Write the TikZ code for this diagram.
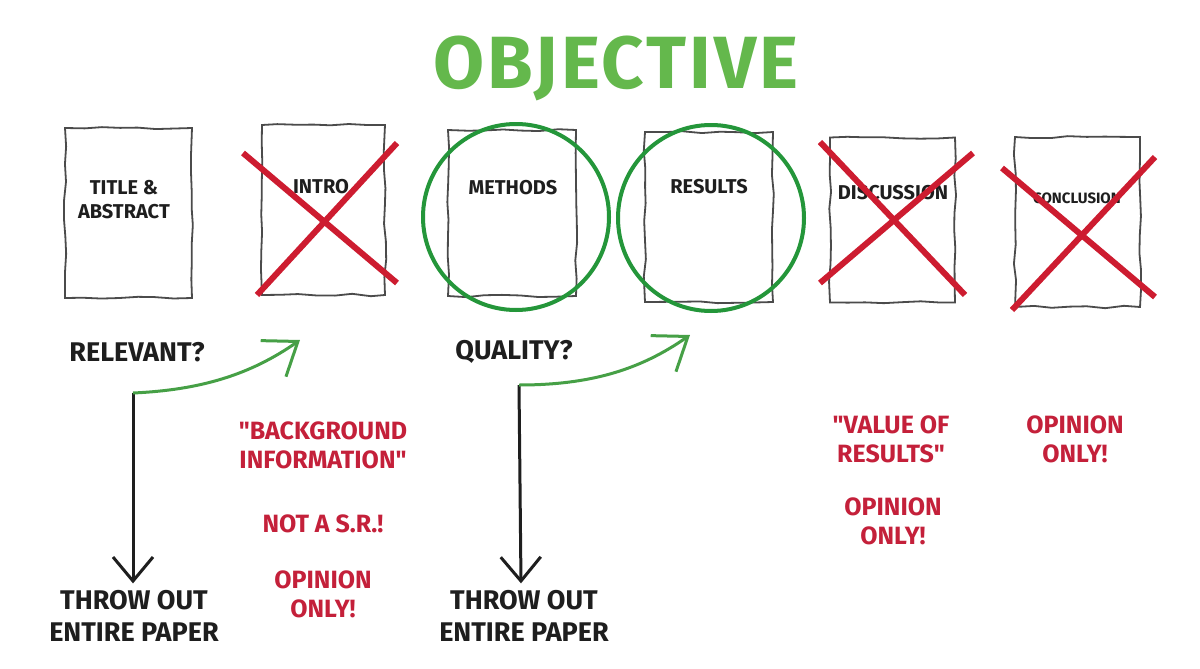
\documentclass[tikz,border=0pt]{standalone}
\usepackage{fontspec}
\setmainfont{Fira Sans}
\usetikzlibrary{arrows.meta,decorations.pathmorphing}
\definecolor{objgreen}{RGB}{100,184,76}
\definecolor{circgreen}{RGB}{36,150,58}
\definecolor{arrgreen}{RGB}{70,160,70}
\definecolor{xred}{RGB}{205,28,48}
\definecolor{tred}{RGB}{196,32,58}
\definecolor{ink}{RGB}{30,30,30}
\begin{document}
\pgfmathsetseed{7}
\begin{tikzpicture}[x=0.5pt,y=-0.5pt,
  paper/.style={draw=ink!80, line width=0.9pt, inner sep=0pt, outer sep=0pt,
    decorate, decoration={random steps, segment length=9pt, amplitude=0.6pt}},
  pagelabel/.style={font=\bfseries\fontsize{10}{12}\selectfont, text=ink, align=center},
  cross/.style={draw=xred, line width=3pt},
  ring/.style={draw=circgreen, line width=2pt},
  question/.style={font=\bfseries\fontsize{13.5}{16}\selectfont, text=ink},
  throwout/.style={font=\bfseries\fontsize{13.5}{16}\selectfont, text=ink, align=center},
  redtext/.style={font=\bfseries\fontsize{12.5}{14.5}\selectfont, text=tred, align=center},
  downarrow/.style={draw=ink, line width=1.5pt, -{Straight Barb[length=12pt,width=20pt,line width=1.5pt]}},
  greenarrow/.style={draw=arrgreen, line width=1.5pt, -{Straight Barb[length=15pt,width=22pt,line width=1.5pt]}}
]
\useasboundingbox[fill=white] (0,0) rectangle (1200,669);

% title
\node[font=\bfseries\fontsize{37}{40}\selectfont\addfontfeatures{LetterSpace=4}, text=objgreen] (title) at (616,68) {OBJECTIVE};

% pages
\node[paper, minimum width=63.5pt, minimum height=85pt] (p1) at (128.5,213) {};
\node[paper, minimum width=61.5pt, minimum height=85pt] (p2) at (323.5,210) {};
\node[paper, minimum width=64pt, minimum height=83pt] (p3) at (512,213) {};
\node[paper, minimum width=64pt, minimum height=85pt] (p4) at (709,217) {};
\node[paper, minimum width=62.5pt, minimum height=82.5pt] (p5) at (892.5,220) {};
\node[paper, minimum width=62.5pt, minimum height=85pt] (p6) at (1077.5,222) {};

\node[pagelabel] (l1) at (124,200) {TITLE \&\\ABSTRACT};
\node[pagelabel] (l2) at (321,187) {INTRO};
\node[pagelabel] (l3) at (513,188) {METHODS};
\node[pagelabel] (l4) at (709,187) {RESULTS};
\node[pagelabel] (l5) at (893,193) {DISCUSSION};
\node[pagelabel, font=\bfseries\fontsize{7.5}{9}\selectfont] (l6) at (1077,198) {CONCLUSION};

% crosses
\draw[cross] (243,153) -- (397,283);
\draw[cross] (257,295) -- (397,143);
\draw[cross] (820,142) -- (965,295);
\draw[cross] (820,283) -- (973,153);
\draw[cross] (1002,168) -- (1155,297);
\draw[cross] (1012,310) -- (1155,157);

% circles
\draw[ring] (516,217) circle[radius=46.5pt];
\draw[ring] (711,218) circle[radius=46.5pt];

% questions
\node[question] (q1) at (137,352) {RELEVANT?};
\node[question] (q2) at (514,352) {QUALITY?};

% throw out
\node[throwout] (t1) at (134,616) {THROW OUT\\ENTIRE PAPER};
\node[throwout] (t2) at (524,616) {THROW OUT\\ENTIRE PAPER};

% arrows
\coordinate (s1) at (133,393);
\coordinate (s2) at (519,385);
\coordinate (g1) at (300,340);
\coordinate (g2) at (690,335);
\draw[downarrow] (s1) -- (t1.north -| s1);
\draw[downarrow] (s2) -- ([xshift=1pt]t2.north -| s2);
\draw[greenarrow] (s1) .. controls (200,390) and (250,375) .. (g1);
\draw[greenarrow] (s2) .. controls (590,385) and (640,370) .. (g2);

% red texts
\node[redtext] (r1) at (323,445) {\textquotedbl BACKGROUND\\INFORMATION\textquotedbl};
\node[redtext] (r2) at (323,524) {NOT A S.R.!};
\node[redtext] (r3) at (323,594) {OPINION\\ONLY!};
\node[redtext] (r4) at (891,439) {\textquotedbl VALUE OF\\RESULTS\textquotedbl};
\node[redtext] (r5) at (893,521) {OPINION\\ONLY!};
\node[redtext] (r6) at (1075,439) {OPINION\\ONLY!};
\end{tikzpicture}
\end{document}
